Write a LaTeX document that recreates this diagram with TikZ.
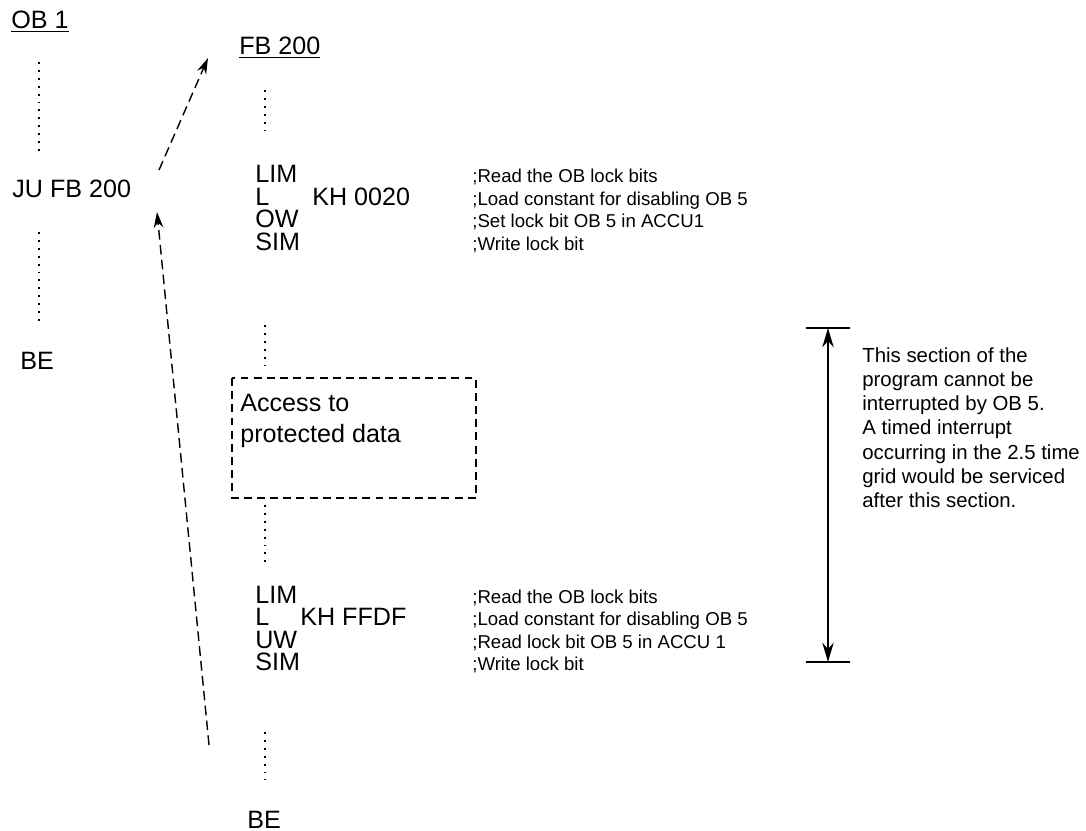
\documentclass[tikz,border=0pt]{standalone}
\usepackage{fontspec}
\setmainfont{Liberation Sans}
\usetikzlibrary{arrows.meta,positioning}

\begin{document}
\begin{tikzpicture}[
    x=0.02cm, y=-0.02cm,
    code/.style={anchor=base west, inner sep=0pt, font=\fontsize{14.3}{16}\selectfont},
    note/.style={anchor=base west, inner sep=0pt, font=\fontsize{10.6}{12}\selectfont},
    remark/.style={anchor=north west, inner sep=0pt, align=left, font=\fontsize{11.6}{13.8}\selectfont},
    dots/.style={line width=1pt, dash pattern=on 1.1pt off 3.4pt},
    jump/.style={line width=0.8pt, dash pattern=on 5.5pt off 3pt, -{Stealth[length=9pt,width=5.5pt]}},
    box/.style={line width=0.8pt, dash pattern=on 4.5pt off 3pt},
    span/.style={line width=0.8pt, {Stealth[length=11pt,width=6.5pt]}-{Stealth[length=11pt,width=6.5pt]}}
]
    % calling block
    \node[code] (ob1) at (11,29) {\underline{OB 1}};
    \node[code] (jufb) at (12,198) {JU FB 200};
    \node[code] (be1) at (20,370) {BE};
    \draw[dots] (39,62) -- (39,153);
    \draw[dots] (39,232) -- (39,323);

    % called block
    \node[code] (fb200) at (239,55) {\underline{FB 200}};
    \draw[dots] (265,90) -- (265,133);

    \node[code] (lim1) at (255,183) {LIM};
    \node[code] (l1) at (255,205.5) {L};
    \node[code] (kh1) at (312,205.5) {KH 0020};
    \node[code] (ow) at (255,228) {OW};
    \node[code] (sim1) at (255,250.5) {SIM};
    \node[note] (c1) at (472,183) {;Read the OB lock bits};
    \node[note] (c2) at (472,205.5) {;Load constant for disabling OB 5};
    \node[note] (c3) at (472,228) {;Set lock bit OB 5 in ACCU1};
    \node[note] (c4) at (472,250.5) {;Write lock bit};

    \draw[dots] (265,325) -- (265,372);
    \draw[box] (232,378) rectangle (476,498);
    \node[code, anchor=north west, align=left, font=\fontsize{14.3}{17.6}\selectfont] (access) at (240,394) {Access to\\protected data};
    \draw[dots] (265,505) -- (265,565);

    \node[code] (lim2) at (255,603) {LIM};
    \node[code] (l2) at (255,625.5) {L};
    \node[code] (kh2) at (300,625.5) {KH FFDF};
    \node[code] (uw) at (255,648) {UW};
    \node[code] (sim2) at (255,670.5) {SIM};
    \node[note] (c5) at (472,603) {;Read the OB lock bits};
    \node[note] (c6) at (472,625.5) {;Load constant for disabling OB 5};
    \node[note] (c7) at (472,648) {;Read lock bit OB 5 in ACCU 1};
    \node[note] (c8) at (472,670.5) {;Write lock bit};

    \draw[dots] (265,732) -- (265,780);
    \node[code] (be2) at (247,828) {BE};

    % jumps
    \coordinate (go) at (159,170);
    \coordinate (goend) at (208,58);
    \coordinate (back) at (209,745);
    \coordinate (backend) at (157,212);
    \draw[jump] (go) -- (goend);
    \draw[jump] (back) -- (backend);

    % protected section
    \coordinate (top) at (828,328);
    \coordinate (bot) at (828,662);
    \draw[line width=0.8pt] (806,328) -- (850,328);
    \draw[line width=0.8pt] (806,662) -- (850,662);
    \draw[span] (top) -- (bot);
    \node[remark] (info) at (862,347) {This section of the\\program cannot be\\interrupted by OB 5.\\A timed interrupt\\occurring in the 2.5 time\\grid would be serviced\\after this section.};

    \useasboundingbox (0,0) rectangle (1086,831);
\end{tikzpicture}
\end{document}
